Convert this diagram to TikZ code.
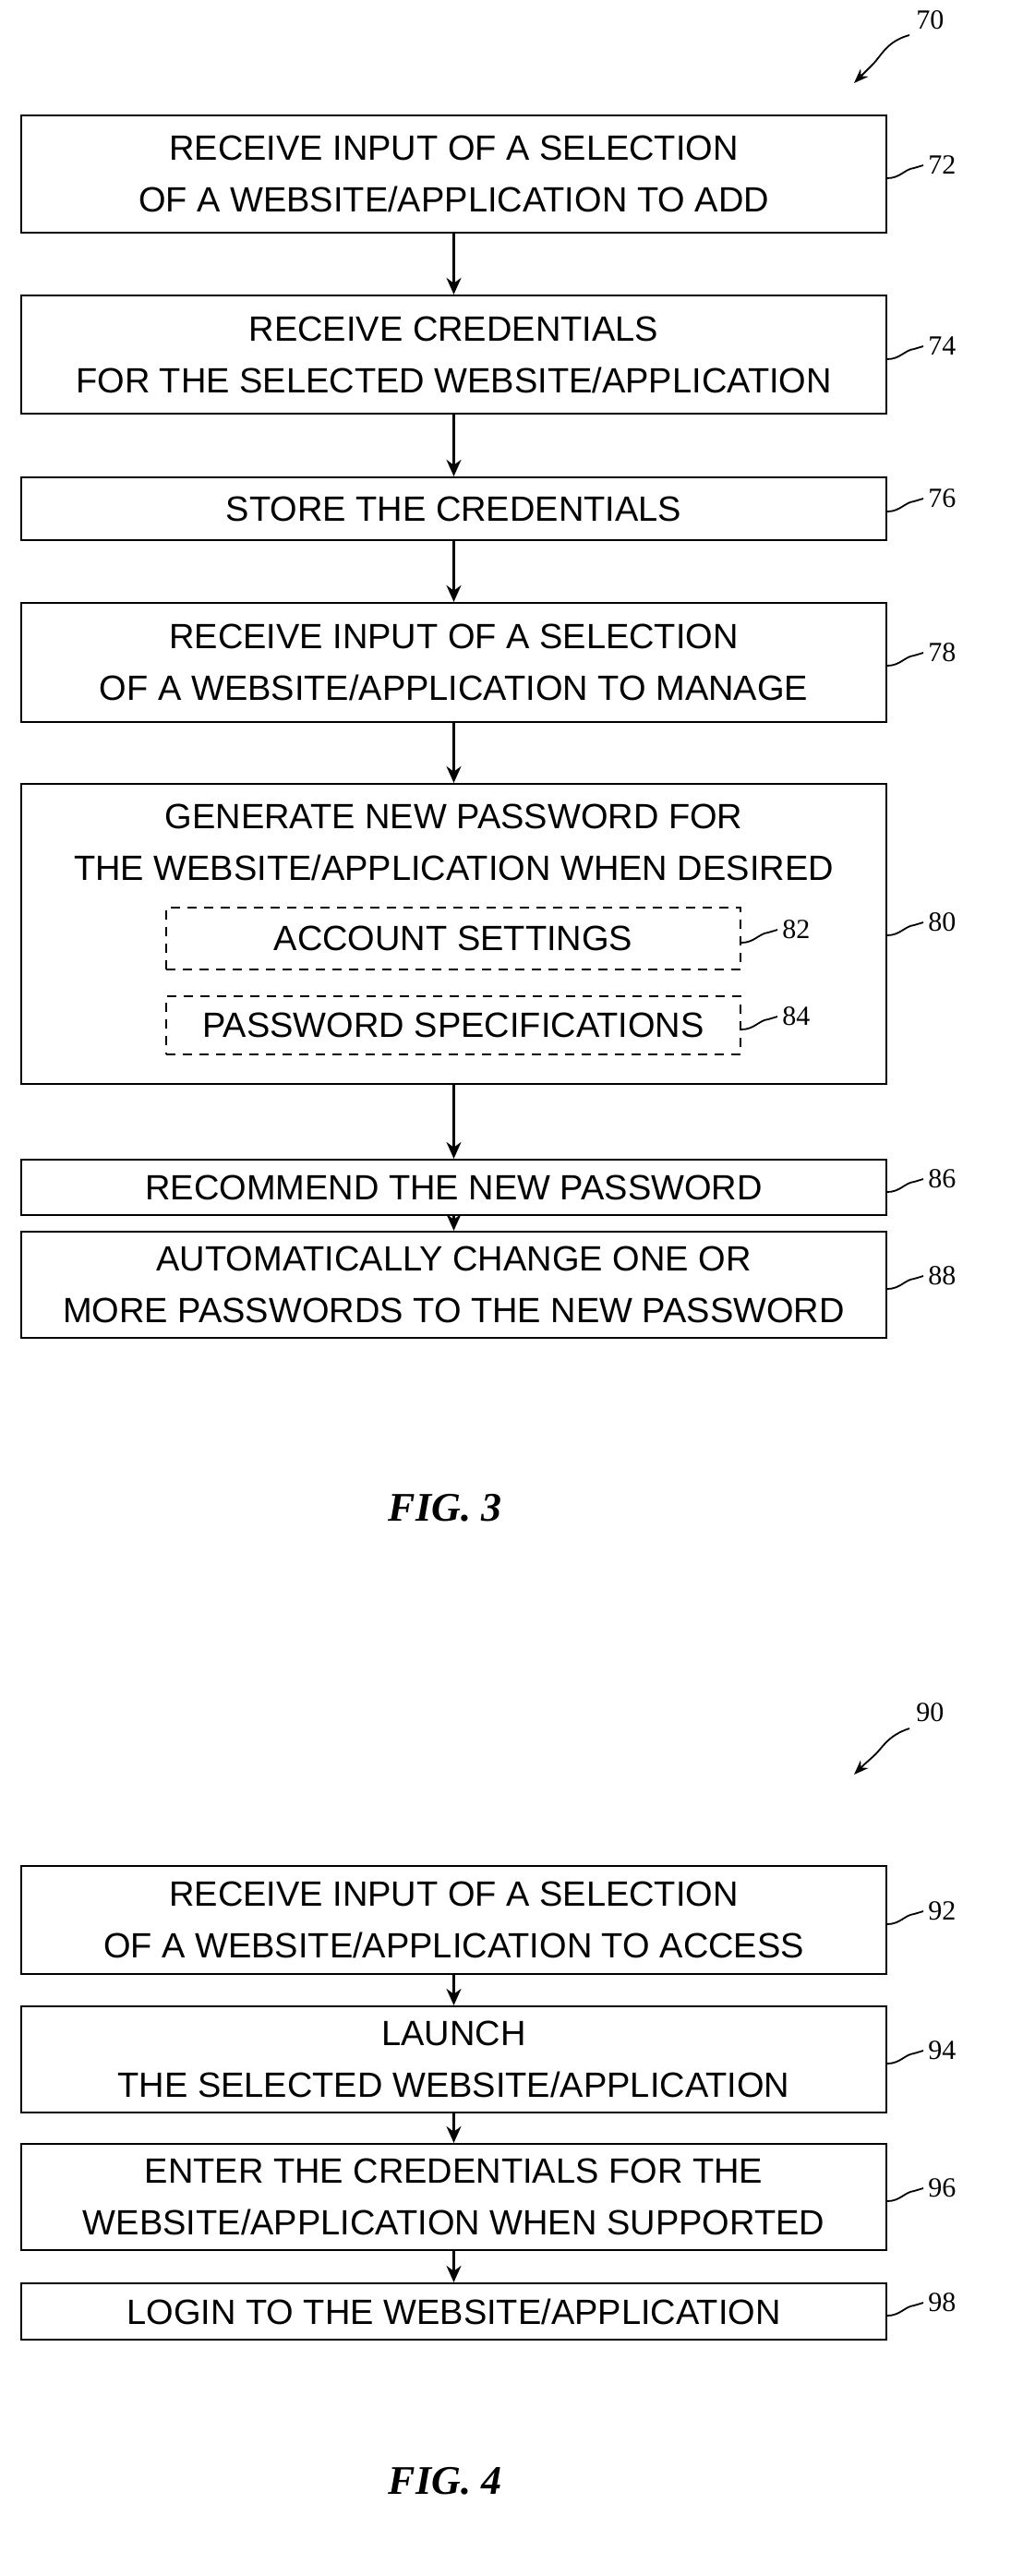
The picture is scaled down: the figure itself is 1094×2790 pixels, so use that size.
\documentclass[tikz,border=0pt]{standalone}
\usepackage{fontspec}
\setmainfont{Liberation Sans}
\newfontfamily\numfont{Liberation Serif}
\usetikzlibrary{arrows.meta}
\begin{document}
\begin{tikzpicture}[x=0.5pt,y=-0.5pt,
  box/.style={draw,line width=1.1pt,minimum width=468.5pt,inner sep=0pt,align=center,
    font=\fontsize{19}{28}\selectfont},
  dbox/.style={draw,dashed,dash pattern=on 5pt off 4pt,line width=1.1pt,minimum width=311pt,inner sep=0pt,align=center,
    font=\fontsize{19}{28}\selectfont},
  arr/.style={-{Stealth[length=9pt,width=8pt]},line width=1.1pt},
  sq/.style={line width=0.9pt},
  lab/.style={anchor=west,font=\numfont\fontsize{15}{18}\selectfont,inner sep=1pt},
  fig/.style={font=\numfont\bfseries\itshape\fontsize{22}{26}\selectfont}]
\useasboundingbox (0,0) rectangle (1094,2790);
\node[box,minimum height=63.5pt] (b72) at (491.5,188.5) {RECEIVE INPUT OF A SELECTION\\OF A WEBSITE/APPLICATION TO ADD};
\node[box,minimum height=64pt] (b74) at (491.5,384) {RECEIVE CREDENTIALS\\FOR THE SELECTED WEBSITE/APPLICATION};
\node[box,minimum height=34pt] (b76) at (491.5,551) {STORE THE CREDENTIALS};
\node[box,minimum height=64.5pt] (b78) at (491.5,717.5) {RECEIVE INPUT OF A SELECTION\\OF A WEBSITE/APPLICATION TO MANAGE};
\node[box,minimum height=162.5pt] (b80) at (491.5,1011.5) {};
\node[align=center,font=\fontsize{19}{28}\selectfont,inner sep=0pt] (t80) at (491.5,912) {GENERATE NEW PASSWORD FOR\\THE WEBSITE/APPLICATION WHEN DESIRED};
\node[dbox,minimum height=33.5pt] (b82) at (491,1016.5) {ACCOUNT SETTINGS};
\node[dbox,minimum height=31.5pt] (b84) at (491,1110.5) {PASSWORD SPECIFICATIONS};
\node[box,minimum height=30pt] (b86) at (491.5,1286) {RECOMMEND THE NEW PASSWORD};
\node[box,minimum height=57.5pt] (b88) at (491.5,1391.5) {AUTOMATICALLY CHANGE ONE OR\\MORE PASSWORDS TO THE NEW PASSWORD};
\node[fig] (f3) at (482,1633) {FIG. 3};
\node[box,minimum height=58.5pt] (b92) at (491.5,2079.5) {RECEIVE INPUT OF A SELECTION\\OF A WEBSITE/APPLICATION TO ACCESS};
\node[box,minimum height=57.5pt] (b94) at (491.5,2230.5) {LAUNCH\\THE SELECTED WEBSITE/APPLICATION};
\node[box,minimum height=57.5pt] (b96) at (491.5,2379.5) {ENTER THE CREDENTIALS FOR THE\\WEBSITE/APPLICATION WHEN SUPPORTED};
\node[box,minimum height=30.5pt] (b98) at (491.5,2503.5) {LOGIN TO THE WEBSITE/APPLICATION};
\node[fig] (f4) at (482,2687) {FIG. 4};
\foreach \a/\b in {b72/b74,b74/b76,b76/b78,b78/b80,b80/b86,b86/b88,b92/b94,b94/b96,b96/b98}
  \draw[arr] (\a.south) -- (\b.north);
% reference labels
\foreach \n/\y in {72/185,74/381,76/546,78/713,80/1005,86/1283,88/1388,92/2076,94/2227,96/2376,98/2500}{
  \draw[sq] (961,\y+8) .. controls (975,\y+8) and (980,\y-2) .. (990,\y-3) .. controls (995,\y-4) .. (1000,\y-6);
  \node[lab] (l\n) at (1003,\y-6) {\n};
}
\foreach \n/\y in {82/1013,84/1107}{
  \draw[sq] (803,\y+8) .. controls (817,\y+8) and (822,\y-2) .. (832,\y-3) .. controls (837,\y-4) .. (842,\y-6);
  \node[lab] (l\n) at (845,\y-6) {\n};
}
\node[lab] (l70) at (990,22) {70};
\coordinate (a70s) at (985,38);
\coordinate (a70e) at (925,90);
\draw[sq,-{Stealth[length=8pt,width=6pt]}] (a70s) .. controls (960,45) and (955,60) .. (945,70) .. controls (935,80) .. (a70e);
\node[lab] (l90) at (990,1855) {90};
\coordinate (a90s) at (985,1872);
\coordinate (a90e) at (925,1922);
\draw[sq,-{Stealth[length=8pt,width=6pt]}] (a90s) .. controls (960,1880) and (955,1895) .. (945,1903) .. controls (935,1912) .. (a90e);
\end{tikzpicture}
\end{document}
